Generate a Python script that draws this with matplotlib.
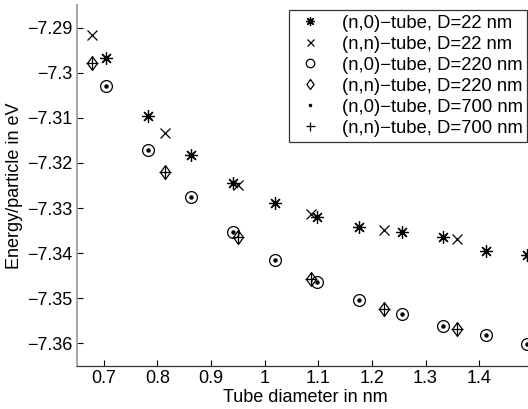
import matplotlib
matplotlib.use("Agg")
import matplotlib.pyplot as plt

plt.rcParams['font.family'] = ['Liberation Sans', 'DejaVu Sans']

# (n,0)-tubes
d_n0 = [0.705, 0.783, 0.862, 0.940, 1.019, 1.098, 1.176, 1.256, 1.333, 1.413, 1.489]
e_n0_22 = [-7.2968, -7.3095, -7.3183, -7.3244, -7.3289, -7.3319, -7.3341, -7.3354, -7.3364, -7.3395, -7.3404]
e_n0_220 = [-7.3030, -7.3171, -7.3276, -7.3354, -7.3416, -7.3464, -7.3503, -7.3535, -7.3561, -7.3582, -7.3601]
e_n0_700 = [-7.3030, -7.3171, -7.3276, -7.3354, -7.3416, -7.3464, -7.3503, -7.3535, -7.3561, -7.3582, -7.3601]

# (n,n)-tubes
d_nn = [0.678, 0.814, 0.951, 1.086, 1.223, 1.359]
e_nn_22 = [-7.2916, -7.3133, -7.3249, -7.3313, -7.3348, -7.3368]
e_nn_220 = [-7.2978, -7.3219, -7.3364, -7.3457, -7.3524, -7.3568]
e_nn_700 = [-7.2978, -7.3219, -7.3364, -7.3457, -7.3524, -7.3568]

labels = ["(n,0)\u2212tube, D=22 nm", "(n,n)\u2212tube, D=22 nm",
          "(n,0)\u2212tube, D=220 nm", "(n,n)\u2212tube, D=220 nm",
          "(n,0)\u2212tube, D=700 nm", "(n,n)\u2212tube, D=700 nm"]

x_ticks = [0.7, 0.8, 0.9, 1.0, 1.1, 1.2, 1.3, 1.4]
x_ticklabels = ["0.7", "0.8", "0.9", "1", "1.1", "1.2", "1.3", "1.4"]
y_ticks = [-7.36, -7.35, -7.34, -7.33, -7.32, -7.31, -7.30, -7.29]
y_ticklabels = ["\u22127.36", "\u22127.35", "\u22127.34", "\u22127.33", "\u22127.32", "\u22127.31", "\u22127.3", "\u22127.29"]

W, H = 528, 409
fig = plt.figure(figsize=(W / 100, H / 100), dpi=100)
ax = fig.add_axes([77 / W, (H - 366) / H, (532.8 - 77) / W, (366 - 5) / H])

diamond = [(0, 1), (0.72, 0), (0, -1), (-0.72, 0), (0, 1)]
kw = dict(linestyle='none', color='black', markerfacecolor='none', markeredgecolor='black')
h1, = ax.plot(d_n0, e_n0_22, marker=(8, 2, 0), markersize=9, markeredgewidth=0.9, **kw)
h2, = ax.plot(d_nn, e_nn_22, marker='x', markersize=7, markeredgewidth=0.9, **kw)
h3, = ax.plot(d_n0, e_n0_220, marker='o', markersize=8.5, markeredgewidth=0.9, **kw)
h4, = ax.plot(d_nn, e_nn_220, marker=diamond, markersize=10, markeredgewidth=0.9, **kw)
h5, = ax.plot(d_n0, e_n0_700, marker='o', markersize=2.2, linestyle='none', color='black')
h6, = ax.plot(d_nn, e_nn_700, marker='+', markersize=9, markeredgewidth=0.9, **kw)

ax.set_xlim(0.65, 1.5)
ax.set_ylim(-7.365, -7.285)
ax.set_xticks(x_ticks)
ax.set_xticklabels(x_ticklabels)
ax.set_yticks(y_ticks)
ax.set_yticklabels(y_ticklabels)
ax.tick_params(direction='in', length=4, width=0.8, labelsize=13, colors='black', pad=3)
ax.spines['top'].set_visible(False)
ax.spines['right'].set_visible(False)
ax.spines['left'].set_color('#a8a8a8')
ax.spines['left'].set_linewidth(1.5)
ax.spines['bottom'].set_color('#333333')
ax.spines['bottom'].set_linewidth(0.9)

ax.set_xlabel("Tube diameter in nm", fontsize=13, labelpad=1)
ax.set_ylabel("Energy/particle in eV", fontsize=13, labelpad=3)

leg = ax.legend([h1, h2, h3, h4, h5, h6], labels, loc='upper left',
                bbox_to_anchor=(289 / W, 1 - 10 / H), bbox_transform=fig.transFigure,
                fontsize=13.3, frameon=True, fancybox=False, handlelength=1.8,
                handletextpad=0.8, labelspacing=0.22, borderpad=0.25, borderaxespad=0,
                markerscale=0.72)
leg.get_frame().set_edgecolor('black')
leg.get_frame().set_linewidth(0.9)

fig.savefig("out.png", dpi=100)
